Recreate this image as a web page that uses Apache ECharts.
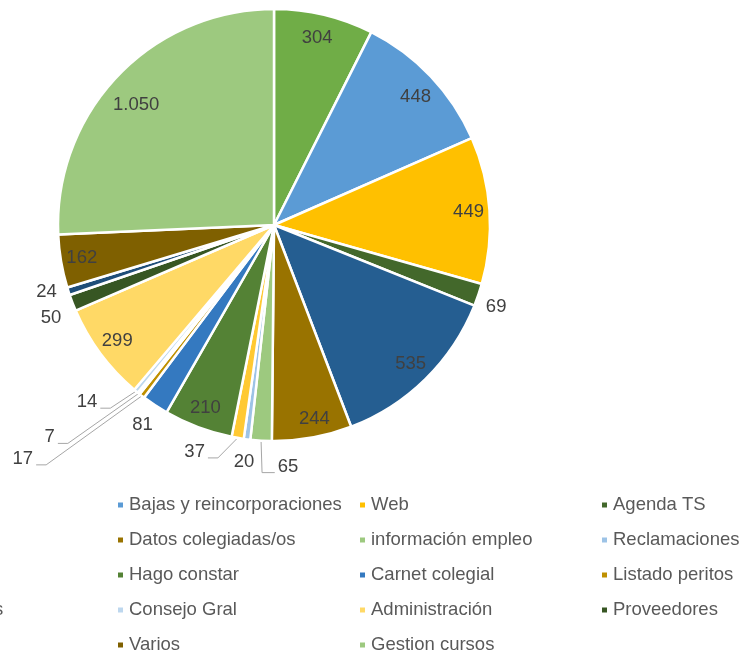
<!DOCTYPE html>
<html><head><meta charset="utf-8">
<script src="https://cdn.jsdelivr.net/npm/echarts@6/dist/echarts.min.js"></script>
<style>html,body{margin:0;padding:0;background:#fff}#c{width:754px;height:655px}</style>
</head><body><div id="c"></div>
<script>
// ---- data ----
const categories = [
  'Certificados', 'Bajas y reincorporaciones', 'Web', 'Agenda TS',
  'Consultas', 'Datos colegiadas/os', 'información empleo', 'Reclamaciones',
  'Seguros', 'Hago constar', 'Carnet colegial', 'Listado peritos',
  'Colegiaciones', 'Consejo Gral', 'Administración', 'Proveedores',
  'Cuotas', 'Varios', 'Gestion cursos'
];
const values = [304, 448, 449, 69, 535, 244, 65, 20, 37, 210, 81, 17, 7, 14, 299, 50, 24, 162, 1050];

// ---- styling ----
const colors = [
  '#70AD47', '#5B9BD5', '#FFC000', '#43682B',
  '#255E91', '#997300', '#9DC97F', '#9DC3E6',
  '#FFC933', '#548235', '#3479C0', '#BF9000',
  '#A9D18E', '#BDD7EE', '#FFD966', '#375623',
  '#1F4E79', '#7F6000', '#9DC97F'
];
const insideLabelled = ['Certificados', 'Bajas y reincorporaciones', 'Web', 'Consultas',
  'Datos colegiadas/os', 'Hago constar', 'Administración', 'Varios', 'Gestion cursos'];
const nearLabelled = ['Agenda TS', 'Reclamaciones', 'Carnet colegial', 'Proveedores', 'Cuotas'];
const linedLabelled = ['información empleo', 'Seguros', 'Listado peritos', 'Colegiaciones', 'Consejo Gral'];
// label centre offset from the slice's outer anchor point (px)
const labelShift = {
  'información empleo': [27, 26],
  'Seguros': [-43, 14],
  'Listado peritos': [-119, 63],
  'Colegiaciones': [-89, 44],
  'Consejo Gral': [-49, 11]
};
// small nudges for label placement (px)
const nearNudge = { 'Cuotas': [0, -6], 'Proveedores': [0, 7], 'Agenda TS': [-4, 5] };
const innerNudge = { 'Gestion cursos': [3, 15], 'Bajas y reincorporaciones': [0, 6], 'Certificados': [-2, 3], 'Datos colegiadas/os': [6, 2] };

const FONT = '"Liberation Sans", Arial, sans-serif';
const fmt = v => String(v).replace(/\B(?=(\d{3})+(?!\d))/g, '.');
const labelText = { color: '#404040', fontSize: 18.5, fontFamily: FONT };

const chart = echarts.init(document.getElementById('c'), null, { renderer: 'canvas' });
const CENTER = [274, 225];
const R = 216;
const base = { type: 'pie', center: CENTER, startAngle: 90, clockwise: true, avoidLabelOverlap: false, animation: false };

function items(showList, extra) {
  return categories.map((n, i) => Object.assign({
    name: n, value: values[i],
    label: { show: showList.includes(n), formatter: fmt(values[i]) }
  }, extra ? extra(n, i) : {}));
}
function nudger(map) {
  return function (p) {
    const d = map[categories[p.dataIndex]];
    if (!d) return {};
    return {
      x: p.labelRect.x + p.labelRect.width / 2 + d[0],
      y: p.labelRect.y + p.labelRect.height / 2 + d[1],
      align: 'center', verticalAlign: 'middle'
    };
  };
}

// legends: 4 columns, filled row by row
const legendCols = [-126, 116, 358, 600];
const legends = legendCols.map((x, c) => ({
  orient: 'vertical', left: x, top: 494, height: 200, padding: 0,
  itemWidth: 7, itemHeight: 7, itemGap: 13, icon: 'rect',
  selectedMode: false,
  textStyle: { color: '#595959', fontSize: 18.5, fontFamily: FONT, lineHeight: 22 },
  data: categories.filter((_, i) => i % 4 === c)
}));

chart.setOption({
  backgroundColor: '#fff',
  legend: legends,
  series: [
    Object.assign({}, base, {
      name: 'main', radius: [0, R],
      itemStyle: { borderColor: '#fff', borderWidth: 2.5 },
      emphasis: { disabled: true },
      label: Object.assign({ position: 'outside' }, labelText),
      labelLine: { length: 0, length2: 10, lineStyle: { color: '#A6A6A6', width: 1 } },
      data: items(linedLabelled, (n, i) => ({
        itemStyle: { color: colors[i] },
        labelLine: { show: linedLabelled.includes(n) }
      })),
      labelLayout: function (p) {
        const n = categories[p.dataIndex];
        const s = labelShift[n];
        if (!s || !p.labelLinePoints) return {};
        const p0 = p.labelLinePoints[0];
        const cx = p0[0] + s[0], cy = p0[1] + s[1];
        const w = p.labelRect.width;
        const right = cx > p0[0];
        const ax = right ? cx - w / 2 - 3 : cx + w / 2 + 3;
        const ly = cy + 6;
        const ex = right ? ax - 10 : ax + 10;
        return {
          x: cx, y: cy, align: 'center', verticalAlign: 'middle',
          labelLinePoints: [[p0[0], p0[1]], [right ? p0[0] + 1 : ex, ly], [ax, ly]]
        };
      }
    }),
    Object.assign({}, base, {
      name: 'inner', radius: [168, R], silent: true,
      itemStyle: { color: 'rgba(0,0,0,0)', borderWidth: 0 },
      emphasis: { disabled: true },
      label: Object.assign({ position: 'inside' }, labelText),
      labelLine: { show: false },
      labelLayout: nudger(innerNudge),
      data: items(insideLabelled)
    }),
    Object.assign({}, base, {
      name: 'outer', radius: [R, 256], silent: true,
      itemStyle: { color: 'rgba(0,0,0,0)', borderWidth: 0 },
      emphasis: { disabled: true },
      label: Object.assign({ position: 'inside' }, labelText),
      labelLine: { show: false },
      labelLayout: nudger(nearNudge),
      data: items(nearLabelled)
    })
  ]
});
</script>
</body></html>
